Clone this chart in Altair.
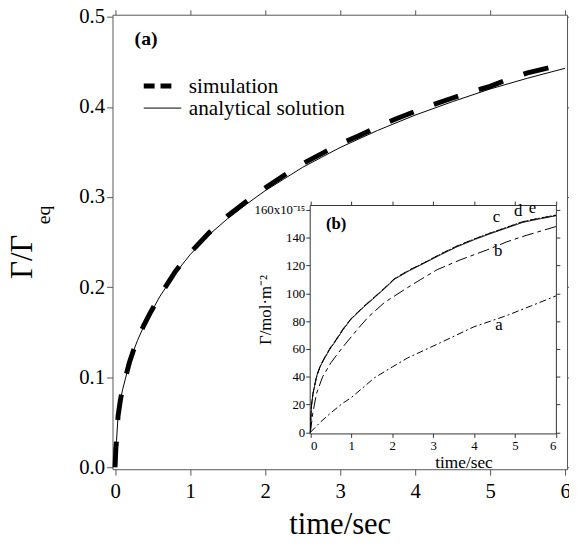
import altair as alt
import pandas as pd

FONT = "'Liberation Serif', 'Times New Roman', Times, serif"
AXC = "#555555"
INC = "#333333"

# ---------- panel (a): main chart ----------
t_ana = [0, 0.005, 0.01, 0.02, 0.04, 0.07, 0.1, 0.14, 0.19, 0.25, 0.3, 0.38, 0.46, 0.6, 0.8, 1.0,
         1.25, 1.5, 1.75, 2.0, 2.25, 2.5, 2.75, 3.0, 3.5, 4.0, 4.5, 5.0, 5.5, 6.0]
v_ana = [0, 0.012, 0.02, 0.03, 0.057, 0.074, 0.086, 0.099, 0.115, 0.13, 0.141, 0.156, 0.169, 0.19, 0.215, 0.236,
         0.258, 0.276, 0.292, 0.307, 0.32, 0.333, 0.344, 0.355, 0.374, 0.391, 0.406, 0.42, 0.432, 0.443]

t_sim = [0, 0.01, 0.02, 0.04, 0.07, 0.1, 0.14, 0.19, 0.25, 0.3, 0.38, 0.46, 0.6, 0.8, 1.0, 1.25, 1.5,
         1.75, 2.0, 2.25, 2.5, 2.75, 3.0, 3.25, 3.5, 3.75, 4.0, 4.25, 4.5, 4.75, 5.0, 5.25, 5.5, 5.75, 6.0]
v_sim = [0, 0.02, 0.03, 0.057, 0.074, 0.087, 0.1, 0.116, 0.131, 0.142, 0.157, 0.17, 0.191, 0.217, 0.238, 0.26, 0.279,
         0.295, 0.31, 0.324, 0.337, 0.348, 0.359, 0.368, 0.378, 0.387, 0.395, 0.403, 0.41, 0.417, 0.423, 0.431, 0.438,
         0.443, 0.448]

x_ticks_main = [0, 1, 2, 3, 4, 5, 6]
y_ticks_main = [0.0, 0.1, 0.2, 0.3, 0.4, 0.5]
legend_labels = ["simulation", "analytical solution"]

# ---------- panel (b): inset ----------
curve_names = ["a", "b", "c", "d", "e"]
t_a = [0, 0.25, 0.5, 0.77, 1.0, 1.57, 2.0, 2.37, 3.18, 3.99, 4.8, 5.4, 6.0]
u_a = [0, 7.5, 14, 20.5, 25, 39.3, 47, 53.4, 64.5, 75.8, 84, 91, 98.1]
t_b = [0, 0.06, 0.15, 0.3, 0.5, 0.77, 1.13, 1.41, 1.81, 2.37, 2.7, 3.1, 3.66, 4.3, 4.8, 5.27, 6.0]
u_b = [0, 14, 28, 40, 50, 60.5, 73.4, 82.8, 93.4, 104, 110, 117, 124, 131, 137, 141.6, 148]
t_top = [0, 0.01, 0.03, 0.06, 0.1, 0.16, 0.25, 0.36, 0.5, 0.6, 0.8, 1.0, 1.3, 1.57, 1.8, 2.05, 2.4, 2.78,
         3.2, 3.58, 4.0, 4.39, 4.8, 5.19, 5.6, 6.0]
u_c = [0, 10, 20, 27, 33, 41, 48, 54, 61, 65, 74, 81.6, 90, 97, 103, 110, 116, 121.6,
       128, 133.4, 138.5, 142.8, 147, 151, 153.5, 155.8]
u_d = [0, 10, 20, 27, 33, 41, 48, 54, 61, 65, 74, 81.8, 90.2, 97.2, 103.3, 110.3, 116.3, 122,
       128.4, 133.8, 139, 143.3, 147.5, 151.5, 154, 156.3]
u_e = [0, 10.5, 20.5, 27.5, 33.5, 41.5, 48.5, 54.5, 61.5, 65.5, 74.5, 82, 90.5, 97.5, 103.5, 110.5, 116.5, 122,
       128.5, 134, 139, 143.2, 147.4, 151.5, 154, 156]
label_t = [4.61, 4.59, 4.55, 5.08, 5.43]
label_u = [73.4, 126.8, 151, 155.8, 158]

x_ticks_inset = [0, 1, 2, 3, 4, 5, 6]
y_ticks_inset = [0, 20, 40, 60, 80, 100, 120, 140, 160]

# ---------- data frames ----------
ana_df = pd.DataFrame({"t": t_ana, "v": v_ana})
sim_df = pd.DataFrame({"t": t_sim, "v": v_sim})
inset_df = pd.concat([
    pd.DataFrame({"t": t_a, "u": u_a, "curve": "a"}),
    pd.DataFrame({"t": t_b, "u": u_b, "curve": "b"}),
    pd.DataFrame({"t": t_top, "u": u_c, "curve": "c"}),
    pd.DataFrame({"t": t_top, "u": u_d, "curve": "d"}),
    pd.DataFrame({"t": t_top, "u": u_e, "curve": "e"}),
], ignore_index=True)
lab_df = pd.DataFrame({"t": label_t, "u": label_u, "curve": curve_names})

W, H = 461, 461

xs_main = alt.Scale(domain=[-0.034, 6.026], nice=False, zero=False)
ys_main = alt.Scale(domain=[-0.0022, 0.5025], nice=False, zero=False)

ana = alt.Chart(ana_df).mark_line(color="black", strokeWidth=1).encode(
    x=alt.X("t:Q", scale=xs_main, axis=alt.Axis(
        orient="bottom", values=x_ticks_main, grid=False, tickSize=6, labelPadding=6,
        labelFont=FONT, labelFontSize=21, labelColor="black", domainColor=AXC, tickColor=AXC,
        title="time/sec", titleFont=FONT, titleFontSize=31, titleFontWeight="normal",
        titleColor="black", titleY=65, titleBaseline="alphabetic")),
    y=alt.Y("v:Q", scale=ys_main, axis=alt.Axis(
        orient="left", values=y_ticks_main, format=".1f", grid=False, tickSize=6, labelPadding=2,
        labelFont=FONT, labelFontSize=21, labelColor="black", domainColor=AXC, tickColor=AXC,
        title="Γ/Γ", titleFont=FONT, titleFontSize=31, titleFontWeight="normal", titleColor="black",
        titleAngle=270, titleX=-82.3, titleY=245, titleBaseline="alphabetic", titleAlign="center")),
)

sim = alt.Chart(sim_df).mark_line(color="black", strokeWidth=5, strokeDash=[26, 22]).encode(
    x=alt.X("t:Q", scale=xs_main, axis=alt.Axis(
        orient="top", values=x_ticks_main, labels=False, grid=False, tickSize=5, title=None,
        domainColor=AXC, tickColor=AXC)),
    y=alt.Y("v:Q", scale=ys_main, axis=alt.Axis(
        orient="right", values=y_ticks_main, labels=False, grid=False, tickSize=5, title=None,
        domainColor=AXC, tickColor=AXC)),
)

one = pd.DataFrame({"k": [0]})
leg_sim_line = alt.Chart(one).mark_rule(color="black", strokeWidth=5, strokeDash=[11, 6]).encode(
    x=alt.value(31.7), x2=alt.value(59.7), y=alt.value(72.3))
leg_ana_line = alt.Chart(one).mark_rule(color="black", strokeWidth=1).encode(
    x=alt.value(31.7), x2=alt.value(69.7), y=alt.value(94.7))
leg_sim_text = alt.Chart(one).mark_text(font=FONT, fontSize=21.5, align="left", baseline="alphabetic",
                                        text=legend_labels[0]).encode(x=alt.value(77.4), y=alt.value(79.7))
leg_ana_text = alt.Chart(one).mark_text(font=FONT, fontSize=21.5, align="left", baseline="alphabetic",
                                        text=legend_labels[1]).encode(x=alt.value(77.4), y=alt.value(101.7))
panel_a = alt.Chart(one).mark_text(font=FONT, fontSize=20, fontWeight="bold", align="left",
                                   baseline="alphabetic", text="(a)").encode(x=alt.value(22.4), y=alt.value(31))
eq_sub = alt.Chart(one).mark_text(font=FONT, fontSize=20, angle=270, align="center",
                                  baseline="alphabetic", text="eq").encode(x=alt.value(-63.8), y=alt.value(203))

main = alt.layer(ana, sim, leg_sim_line, leg_ana_line, leg_sim_text, leg_ana_text, panel_a, eq_sub
                 ).resolve_axis(x="independent", y="independent")

# ---------- inset ----------
xs_in = alt.Scale(domain=[-0.017, 6.0], range=[200, 449.7], nice=False, zero=False)
ys_in = alt.Scale(domain=[-0.8, 163.5], range=[424.7, 193], nice=False, zero=False)

curves = alt.Chart(inset_df).mark_line(color="black").encode(
    x=alt.X("t:Q", scale=xs_in, axis=alt.Axis(
        orient="bottom", offset=-36.3, values=x_ticks_inset, grid=False, tickSize=4, labelPadding=2,
        labelFont=FONT, labelFontSize=13, labelColor="black", domainColor=INC, tickColor=INC,
        title="time/sec", titleFont=FONT, titleFontSize=17.5, titleFontWeight="normal", titleColor="black",
        titleX=356, titleY=34.3, titleBaseline="alphabetic", titleAlign="center")),
    y=alt.Y("u:Q", scale=ys_in, axis=alt.Axis(
        orient="left", offset=-200, values=y_ticks_inset, grid=False, tickSize=4, labelPadding=1,
        labelFont=FONT, labelFontSize=13, labelColor="black", domainColor=INC, tickColor=INC,
        labelExpr="datum.value == 160 ? '160x10⁻¹⁵' : datum.label",
        title="Γ/mol·m⁻²", titleFont=FONT, titleFontSize=17, titleFontWeight="normal", titleColor="black",
        titleAngle=270, titleX=-39.3, titleY=299, titleBaseline="alphabetic", titleAlign="center")),
    detail="curve:N",
    strokeDash=alt.StrokeDash("curve:N", scale=alt.Scale(
        domain=curve_names, range=[[7, 3, 2, 3], [12, 4, 4, 4], [1, 0], [2, 2], [8, 4]]), legend=None),
    strokeWidth=alt.StrokeWidth("curve:N", scale=alt.Scale(
        domain=curve_names, range=[1, 1, 0.8, 1, 3.5]), legend=None),
)

labels = alt.Chart(lab_df).mark_text(font=FONT, fontSize=17, color="black", baseline="alphabetic",
                                     align="center").encode(
    x=alt.X("t:Q", scale=xs_in, axis=alt.Axis(
        orient="top", offset=-193, values=x_ticks_inset, labels=False, grid=False, tickSize=4,
        title=None, domainColor=INC, tickColor=INC)),
    y=alt.Y("u:Q", scale=ys_in, axis=alt.Axis(
        orient="right", offset=-11.3, values=y_ticks_inset, labels=False, grid=False, tickSize=4,
        title=None, domainColor=INC, tickColor=INC)),
    text="curve:N",
)

panel_b = alt.Chart(one).mark_text(font=FONT, fontSize=17, fontWeight="bold", align="left",
                                   baseline="alphabetic", text="(b)").encode(x=alt.value(216.5), y=alt.value(217))

inset = alt.layer(curves, labels, panel_b).resolve_axis(x="independent", y="independent")

chart = alt.layer(main, inset).resolve_scale(
    x="independent", y="independent", strokeDash="independent", strokeWidth="independent"
).properties(
    width=W, height=H,
    padding={"left": 106, "top": 3, "right": 2, "bottom": 70},
    autosize=alt.AutoSizeParams(type="none"),
    background="white",
).configure_view(stroke=None)

chart.save("out.html", embed_options={"renderer": "svg", "actions": False})
